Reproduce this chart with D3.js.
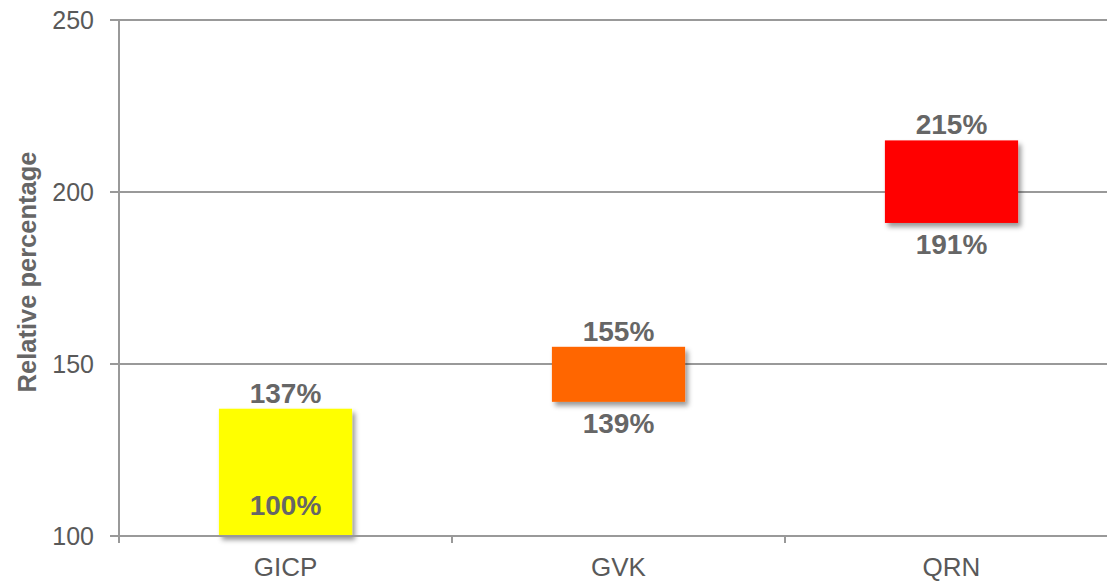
<!DOCTYPE html>
<html lang="en">
<head>
    <meta charset="UTF-8">
    <title>Relative percentage</title>
    <style>
        body { margin: 0; background: #fff; }
        text { font-family: "Liberation Sans", Arial, sans-serif; }
    </style>
</head>
<body>
<div id="container"></div>
<script src="https://cdn.jsdelivr.net/npm/d3@7"></script>
<script>
    const categories = ['GICP', 'GVK', 'QRN']
    const lowValues = [100, 139, 191]
    const highValues = [137, 155, 215]
    const barColors = ['#ffff00', '#ff6600', '#ff0000']
    const yTicks = [100, 150, 200, 250]

    const width = 1107
    const height = 582
    const marginLeft = 119
    const marginTop = 20
    const plotBottom = 536
    const plotRight = 1118

    const axisColor = '#999999'
    const labelColor = '#666666'
    const tickTextColor = '#595959'

    const svg = d3.select('#container').append('svg')
        .attr('width', width)
        .attr('height', height)

    // drop shadow for bars
    const filter = svg.append('defs').append('filter')
        .attr('id', 'shadow')
        .attr('x', '-10%').attr('y', '-10%')
        .attr('width', '130%').attr('height', '140%')
    filter.append('feDropShadow')
        .attr('dx', 3).attr('dy', 4)
        .attr('stdDeviation', 2.5)
        .attr('flood-color', '#000')
        .attr('flood-opacity', 0.4)

    const x = d3.scaleBand()
        .domain(categories)
        .range([marginLeft, plotRight])
        .paddingInner(0.6)
        .paddingOuter(0.3)

    const y = d3.scaleLinear()
        .domain([100, 250])
        .range([plotBottom, marginTop])

    /* gridlines + y ticks */
    svg.append('g')
        .selectAll('line')
        .data(yTicks.slice(1))
        .enter()
        .append('line')
        .attr('x1', marginLeft - 9)
        .attr('x2', width)
        .attr('y1', d => y(d))
        .attr('y2', d => y(d))
        .attr('stroke', axisColor)
        .attr('stroke-width', 2)

    svg.append('g')
        .selectAll('text')
        .data(yTicks)
        .enter()
        .append('text')
        .attr('x', marginLeft - 25)
        .attr('y', d => y(d))
        .attr('dy', '0.36em')
        .attr('text-anchor', 'end')
        .attr('font-size', '25px')
        .attr('fill', tickTextColor)
        .text(d => d)

    /* bars */
    const bars = categories.map((c, i) => ({cat: c, low: lowValues[i], high: highValues[i], color: barColors[i]}))

    svg.append('g')
        .selectAll('rect')
        .data(bars)
        .enter()
        .append('rect')
        .attr('x', d => x(d.cat))
        .attr('y', d => y(d.high))
        .attr('width', x.bandwidth())
        .attr('height', d => y(d.low) - y(d.high))
        .attr('fill', d => d.color)
        .attr('filter', 'url(#shadow)')

    /* axes lines */
    svg.append('line')
        .attr('x1', marginLeft).attr('x2', marginLeft)
        .attr('y1', marginTop).attr('y2', plotBottom + 7)
        .attr('stroke', axisColor).attr('stroke-width', 2)

    svg.append('line')
        .attr('x1', marginLeft - 9).attr('x2', width)
        .attr('y1', plotBottom).attr('y2', plotBottom)
        .attr('stroke', axisColor).attr('stroke-width', 2)

    // category boundary ticks
    svg.append('g')
        .selectAll('line')
        .data(categories.slice(1))
        .enter()
        .append('line')
        .attr('x1', d => x(d) - x.step() * x.paddingOuter())
        .attr('x2', d => x(d) - x.step() * x.paddingOuter())
        .attr('y1', plotBottom)
        .attr('y2', plotBottom + 7)
        .attr('stroke', axisColor)
        .attr('stroke-width', 2)

    svg.append('g')
        .selectAll('text')
        .data(categories)
        .enter()
        .append('text')
        .attr('x', d => x(d) + x.bandwidth() / 2)
        .attr('y', 576)
        .attr('text-anchor', 'middle')
        .attr('font-size', '26px')
        .attr('fill', tickTextColor)
        .text(d => d)

    /* value labels */
    const labels = svg.append('g')
        .attr('font-size', '28px')
        .attr('font-weight', 'bold')
        .attr('fill', labelColor)
        .attr('text-anchor', 'middle')

    labels.selectAll('text.high')
        .data(bars)
        .enter()
        .append('text')
        .classed('high', true)
        .attr('x', d => x(d.cat) + x.bandwidth() / 2)
        .attr('y', d => y(d.high) - 6)
        .text(d => d.high + '%')

    labels.selectAll('text.low')
        .data(bars)
        .enter()
        .append('text')
        .classed('low', true)
        .attr('x', d => x(d.cat) + x.bandwidth() / 2)
        .attr('y', d => Math.min(y(d.low) + 31, plotBottom - 21))
        .text(d => d.low + '%')

    /* y title */
    svg.append('text')
        .attr('transform', `translate(36,272) rotate(-90)`)
        .attr('text-anchor', 'middle')
        .attr('font-size', '25.5px')
        .attr('font-weight', 'bold')
        .attr('fill', labelColor)
        .text('Relative percentage')
</script>
</body>
</html>
